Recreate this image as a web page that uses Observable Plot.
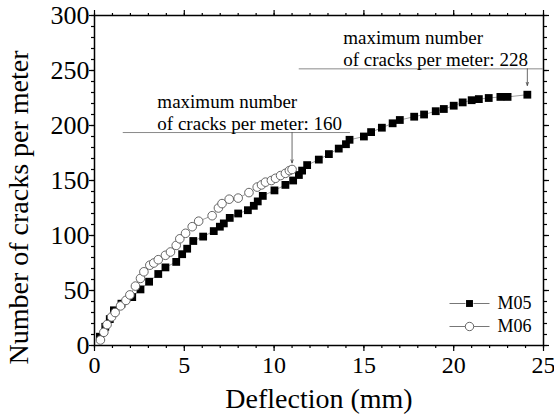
<!DOCTYPE html>
<html>
<head>
<meta charset="utf-8">
<script src="https://cdn.jsdelivr.net/npm/d3@7"></script>
<script src="https://cdn.jsdelivr.net/npm/@observablehq/plot@0.6"></script>
<style>
  body { margin: 0; background: #fff; }
  #chart svg { display: block; }
</style>
</head>
<body>
<div id="chart"></div>
<script>
// Crack density versus deflection for beams M05 and M06
const m05Deflection = [0.3, 0.6, 0.85, 1.08, 1.5, 2.1, 2.56, 3.04, 3.55, 3.95, 4.55, 4.88, 5.16, 5.5, 6.05, 6.64, 6.98, 7.2, 7.53, 8.0, 8.54, 8.87, 9.09, 9.37, 10.02, 10.63, 11.06, 11.38, 11.56, 11.84, 12.49, 13.05, 13.6, 14.0, 14.2, 15.0, 15.4, 16.0, 16.6, 17.0, 17.8, 18.35, 19.0, 19.45, 20.0, 20.5, 21.0, 21.4, 21.95, 22.6, 23.0, 24.1];
const m05Cracks = [8, 17, 24, 32, 38, 44, 51, 58, 65, 71, 76, 83, 88, 95, 99, 104, 108, 111, 116, 120, 123, 127, 131, 136, 141, 146, 150, 155, 159, 164, 169, 174, 179, 183, 187, 190, 194, 198, 202, 205, 208, 210, 213, 215, 218, 221, 223, 224, 225, 226, 226, 228];

const m06Deflection = [0.33, 0.52, 0.7, 0.95, 1.15, 1.45, 1.75, 1.97, 2.28, 2.56, 2.75, 3.08, 3.3, 3.55, 3.95, 4.23, 4.55, 4.75, 5.07, 5.44, 5.8, 6.55, 6.9, 7.1, 7.5, 8.0, 8.6, 9.06, 9.3, 9.52, 9.85, 10.08, 10.36, 10.63, 10.85, 11.0];
const m06Cracks = [5, 12, 19, 26, 30, 36, 41, 46, 54, 61, 67, 73, 75, 78, 82, 85, 91, 97, 102, 108, 113, 118, 125, 129, 133, 134, 139, 144, 146, 148.5, 150, 152, 154.5, 156.5, 159, 160];

const seriesNames = ["M05", "M06"];
const xTicks = [0, 5, 10, 15, 20, 25];
const yTicks = [0, 50, 100, 150, 200, 250, 300];
const xTitle = "Deflection (mm)";
const yTitle = "Number of cracks per meter";
const noteHead = "maximum number";
const noteTail = "of cracks per meter: ";

const m05 = m05Deflection.map((x, i) => ({x, y: m05Cracks[i]}));
const m06 = m06Deflection.map((x, i) => ({x, y: m06Cracks[i]}));
const peak = (s) => s.reduce((a, b) => (b.y > a.y ? b : a));

// Callouts for the peak of each series (offsets in axis units)
const notes = [
  {point: peak(m06), lift: 33.6, tip: 6, left: 9.4, right: 3.25, textLeft: 7.5},
  {point: peak(m05), lift: 23.5, tip: 8.4, left: 12.7, right: 0.9, textLeft: 10.25}
].map((n) => ({
  ...n,
  lineY: n.point.y + n.lift,
  tipY: n.point.y + n.tip,
  x1: n.point.x - n.left,
  x2: n.point.x + n.right,
  textX: n.point.x - n.textLeft,
  label: `${noteHead}\n${noteTail}${n.point.y}`
}));

const serif = '"Liberation Serif", "Times New Roman", Times, serif';
const minorX = d3.range(0, 26, 1);
const minorY = d3.range(0, 301, 10);
const blank = () => "";

// legend key: short horizontal stroke
const keySegment = {
  draw(context) {
    context.moveTo(-8, 0);
    context.lineTo(8, 0);
  }
};

const legendRows = [
  {name: seriesNames[0], dy: -42, symbol: "square", r: 3.9, fill: "#000", stroke: "none"},
  {name: seriesNames[1], dy: -19, symbol: "circle", r: 4.2, fill: "#fff", stroke: "#555"}
];

const chart = Plot.plot({
  width: 554,
  height: 417,
  marginLeft: 94,
  marginRight: 11,
  marginTop: 15,
  marginBottom: 72,
  style: {fontFamily: serif, background: "#fff", color: "#000", overflow: "visible"},
  x: {domain: [0, 25]},
  y: {domain: [0, 300]},
  marks: [
    // axes: minor and major ticks on all four sides
    Plot.axisX({ticks: minorX, tickSize: 3, tickFormat: blank, label: null, strokeWidth: 1.2}),
    Plot.axisX({ticks: xTicks, tickSize: 6, tickPadding: 4, fontSize: 24, label: null, strokeWidth: 1.2}),
    Plot.axisX({anchor: "top", ticks: minorX, tickSize: 3, tickFormat: blank, label: null, strokeWidth: 1.2}),
    Plot.axisX({anchor: "top", ticks: xTicks, tickSize: 6, tickFormat: blank, label: null, strokeWidth: 1.2}),
    Plot.axisY({ticks: minorY, tickSize: 3, tickFormat: blank, label: null, strokeWidth: 1.2}),
    Plot.axisY({ticks: yTicks, tickSize: 5, tickPadding: 0, fontSize: 26, label: null, strokeWidth: 1.2}),
    Plot.axisY({anchor: "right", ticks: minorY, tickSize: 3, tickFormat: blank, label: null, strokeWidth: 1.2}),
    Plot.axisY({anchor: "right", ticks: yTicks, tickSize: 5, tickFormat: blank, label: null, strokeWidth: 1.2}),
    Plot.frame({stroke: "#000", strokeWidth: 1.5}),

    // callout rules, arrows and text
    Plot.ruleY(notes, {y: "lineY", x1: "x1", x2: "x2", stroke: "#8a8a8a", strokeWidth: 1}),
    Plot.arrow(notes, {x1: (d) => d.point.x, x2: (d) => d.point.x, y1: "lineY", y2: "tipY", stroke: "#444", strokeWidth: 0.8, headLength: 6, headAngle: 40}),
    Plot.text(notes, {x: "textX", y: "lineY", text: "label", textAnchor: "start", lineAnchor: "bottom", dy: -3, fontSize: 19, lineHeight: 1.16, fill: "#000"}),

    // series
    Plot.line(m05, {x: "x", y: "y", stroke: "#888", strokeWidth: 0.8}),
    Plot.dot(m05, {x: "x", y: "y", symbol: "square", r: 4.4, fill: "#000"}),
    Plot.line(m06, {x: "x", y: "y", stroke: "#888", strokeWidth: 0.8}),
    Plot.dot(m06, {x: "x", y: "y", symbol: "circle", r: 4.3, fill: "#fff", stroke: "#555", strokeWidth: 0.9}),

    // legend in the lower-right corner of the frame
    ...legendRows.flatMap((row) => [
      Plot.dot([row], {frameAnchor: "bottom-right", dx: -86, dy: row.dy, symbol: keySegment, fill: "none", stroke: "#777", strokeWidth: 1}),
      Plot.dot([row], {frameAnchor: "bottom-right", dx: -62, dy: row.dy, symbol: keySegment, fill: "none", stroke: "#777", strokeWidth: 1}),
      Plot.dot([row], {frameAnchor: "bottom-right", dx: -74, dy: row.dy, symbol: row.symbol, r: row.r, fill: row.fill, stroke: row.stroke, strokeWidth: 0.9}),
      Plot.text([row], {text: "name", frameAnchor: "bottom-right", dx: -46, dy: row.dy, textAnchor: "start", lineAnchor: "middle", fontSize: 18, fill: "#000"})
    ]),

    // axis titles
    Plot.text([xTitle], {text: (d) => d, frameAnchor: "bottom", dy: 54, textAnchor: "middle", lineAnchor: "middle", fontSize: 28, fill: "#000"}),
    Plot.text([yTitle], {text: (d) => d, frameAnchor: "left", rotate: -90, dx: -75, dy: 27, textAnchor: "middle", lineAnchor: "middle", fontSize: 28, fill: "#000", ariaLabel: "y-title"})
  ]
});

// the vertical title runs the full height beside the axis
const yTitleText = chart.querySelector('g[aria-label="y-title"] text');
if (yTitleText) {
  yTitleText.setAttribute("textLength", 375);
  yTitleText.setAttribute("lengthAdjust", "spacingAndGlyphs");
}

document.getElementById("chart").append(chart);
</script>
</body>
</html>
